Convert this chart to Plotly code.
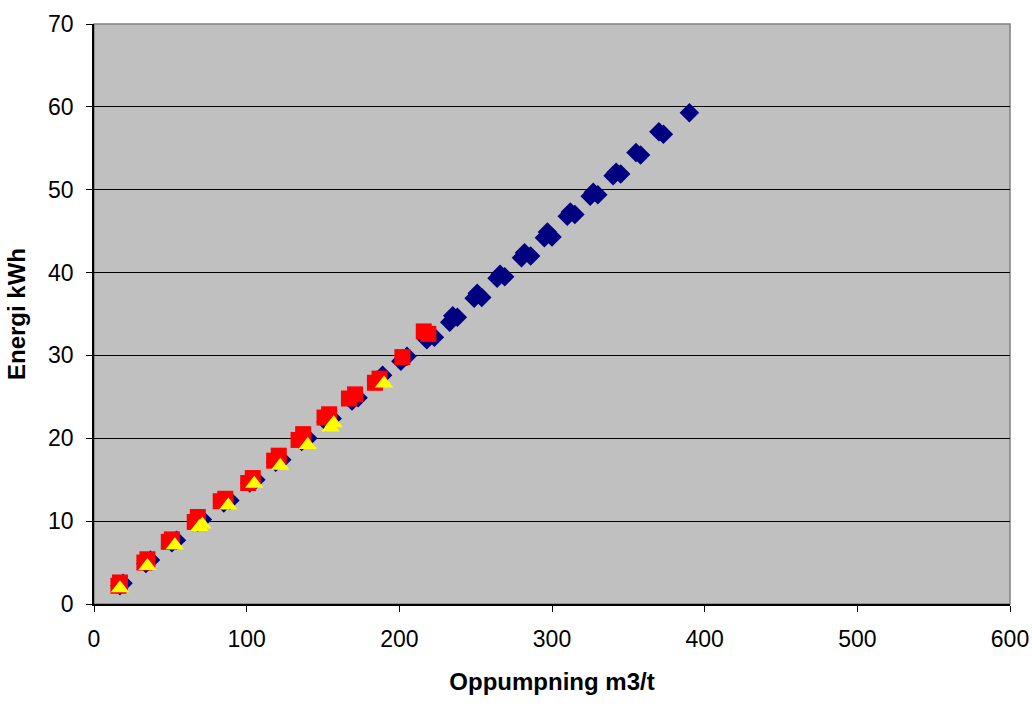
import plotly.graph_objects as go

# Series 1 (blue diamonds)
blue_x = [17, 19, 34, 37, 51, 54, 68, 71, 85, 89, 102, 106, 119, 123, 136, 140,
          152, 156, 169, 173, 185, 189, 201, 205, 218, 223, 233, 235, 238, 249, 251, 254,
          264, 266, 269, 280, 282, 286, 295, 297, 300, 310, 312, 315, 325, 327, 330,
          340, 342, 345, 355, 358, 370, 373, 390]
blue_y = [2.2, 2.5, 4.9, 5.3, 7.4, 7.7, 9.9, 10.2, 12.2, 12.5, 14.6, 15.0, 17.1, 17.4, 19.6, 20.0,
          22.0, 22.4, 24.5, 24.9, 27.0, 27.6, 29.3, 29.9, 31.9, 32.2, 34.0, 34.8, 34.6, 36.9, 37.5, 37.0,
          39.3, 39.8, 39.5, 41.8, 42.4, 42.0, 44.2, 44.9, 44.3, 46.8, 47.3, 47.0, 49.2, 49.7, 49.4,
          51.7, 52.1, 51.9, 54.5, 54.2, 57.0, 56.7, 59.3]

# Series 2 (red squares)
red_x = [16, 17, 33, 35, 49, 51, 66, 68, 83, 86, 101, 104, 118, 121, 134, 137,
         151, 154, 167, 171, 184, 187, 202, 216, 219]
red_y = [2.2, 2.6, 5.0, 5.4, 7.5, 7.8, 9.9, 10.5, 12.4, 12.7, 14.6, 15.2, 17.3, 17.9, 19.8, 20.5,
         22.5, 22.9, 24.8, 25.3, 26.7, 27.2, 29.8, 32.9, 32.6]

# Series 3 (yellow triangles)
yel_x = [17, 35, 53, 69, 71, 88, 105, 122, 140, 155, 157, 190]
yel_y = [1.9, 4.6, 7.1, 9.3, 9.6, 11.9, 14.5, 16.7, 19.2, 21.3, 21.8, 26.6]

fig = go.Figure()
fig.add_trace(go.Scatter(x=blue_x, y=blue_y, mode="markers",
                         marker=dict(symbol="diamond", size=15, color="#000080"),
                         showlegend=False))
fig.add_trace(go.Scatter(x=red_x, y=red_y, mode="markers",
                         marker=dict(symbol="square", size=16, color="#FF0000"),
                         showlegend=False))
fig.add_trace(go.Scatter(x=yel_x, y=yel_y, mode="markers",
                         marker=dict(symbol="triangle-up", size=16, color="#FFFF00"),
                         showlegend=False))

font = "Liberation Sans, Arial, sans-serif"
fig.update_layout(
    width=1032, height=706,
    margin=dict(l=94, r=22, t=24, b=102),
    paper_bgcolor="white", plot_bgcolor="#C0C0C0",
    font=dict(family=font, size=23, color="black"),
    shapes=[dict(type="rect", xref="paper", yref="paper", x0=0, x1=1, y0=0, y1=1,
                 line=dict(color="#808080", width=1.5), layer="below")],
)
fig.update_xaxes(range=[0, 600], dtick=100, showgrid=False, zeroline=False,
                 showline=True, linecolor="black", linewidth=1.5, automargin=False,
                 ticks="outside", ticklen=6, tickcolor="black", ticklabelstandoff=8,
                 title=dict(text="<b>Oppumpning m3/t</b>", font=dict(size=24), standoff=22))
fig.update_yaxes(range=[0, 70], dtick=10, showgrid=True, gridcolor="black", gridwidth=1,
                 zeroline=False, showline=True, linecolor="black", linewidth=1.5, automargin=False,
                 ticks="outside", ticklen=6, tickcolor="black", ticklabelstandoff=8,
                 title=dict(text="<b>Energi kWh</b>", font=dict(size=24), standoff=16))

fig.write_html("out.html", config={"displayModeBar": False},
               post_script="document.body.style.margin='0';document.body.style.overflow='hidden';")
